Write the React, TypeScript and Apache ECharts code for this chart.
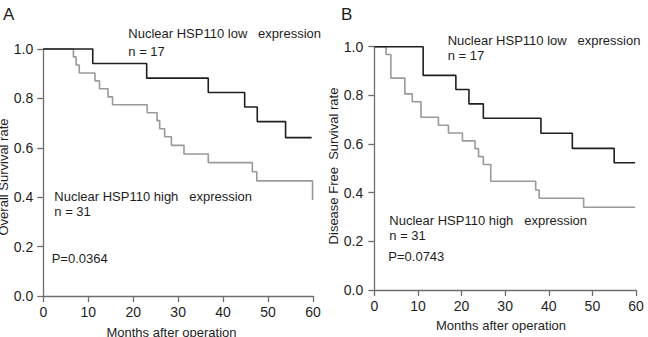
import React, { useEffect, useRef } from "react";
import * as echarts from "echarts";

// Kaplan–Meier estimates (months after operation, survival rate)
const osLowMonths = [0, 11, 23, 36.7, 44.8, 47.6, 53.9, 59.7];
const osLowRate = [1, 0.941, 0.882, 0.824, 0.765, 0.706, 0.641, 0.641];
const osHighMonths = [0, 6.7, 7.3, 8.0, 11.5, 12.5, 14.4, 15.4, 23.1, 25.3, 25.9, 27, 28.5, 31.3, 36.7, 46.5, 47.5, 59.9];
const osHighRate = [1, 0.968, 0.935, 0.903, 0.871, 0.839, 0.806, 0.774, 0.742, 0.71, 0.677, 0.645, 0.61, 0.575, 0.54, 0.503, 0.466, 0.389];

const dfsLowMonths = [0, 11.2, 18.7, 21.7, 25, 38.2, 45.4, 55, 59.8];
const dfsLowRate = [1, 0.882, 0.824, 0.765, 0.706, 0.644, 0.582, 0.523, 0.523];
const dfsHighMonths = [0, 2.7, 3.8, 7.0, 8.7, 10.7, 14.7, 17, 20.2, 23.1, 23.9, 25, 26.7, 37, 37.8, 48, 59.8];
const dfsHighRate = [1, 0.968, 0.871, 0.806, 0.774, 0.71, 0.677, 0.645, 0.613, 0.581, 0.548, 0.516, 0.447, 0.411, 0.377, 0.34, 0.34];

const xTicks = [0, 10, 20, 30, 40, 50, 60];
const yTicks = [0, 0.2, 0.4, 0.6, 0.8, 1.0];

const FONT = "'Liberation Sans', Arial, sans-serif";
const TEXT = "#1e1e1e";
const AXIS = "#6e6e6e";
const LOW_COLOR = "#1f1f1f";
const HIGH_COLOR = "#9a9a9a";

const zip = (xs: number[], ys: number[]) => xs.map((x, i) => [x, ys[i]]);

function xAxisOf(gridIndex: number) {
  return {
    type: "value",
    gridIndex,
    min: xTicks[0],
    max: xTicks[xTicks.length - 1],
    interval: 10,
    axisLine: { show: true, onZero: false, lineStyle: { color: AXIS, width: 1.3 } },
    axisTick: { show: true, length: 6, lineStyle: { color: AXIS, width: 1.3 } },
    axisLabel: { color: TEXT, fontSize: 14, fontFamily: FONT, margin: 9 },
    splitLine: { show: false },
  };
}

function yAxisOf(gridIndex: number, margin: number) {
  return {
    type: "value",
    gridIndex,
    min: yTicks[0],
    max: yTicks[yTicks.length - 1],
    interval: 0.2,
    axisLine: { show: true, onZero: false, lineStyle: { color: AXIS, width: 1.3 } },
    axisTick: { show: true, length: 6, lineStyle: { color: AXIS, width: 1.3 } },
    axisLabel: {
      color: TEXT,
      fontSize: 14,
      fontFamily: FONT,
      margin,
      formatter: (v: number) => v.toFixed(1),
    },
    splitLine: { show: false },
  };
}

function kmSeries(xIdx: number, data: number[][], color: string) {
  return {
    type: "line",
    xAxisIndex: xIdx,
    yAxisIndex: xIdx,
    step: "end",
    symbol: "none",
    clip: false,
    data,
    lineStyle: { color, width: 1.6 },
  };
}

function label(text: string, x: number, y: number, extra: any = {}) {
  return {
    type: "text",
    x,
    y,
    style: {
      text,
      fill: TEXT,
      font: `13px ${FONT}`,
      textAlign: "left",
      textVerticalAlign: "middle",
      ...extra,
    },
  };
}

export default function App() {
  const ref = useRef<HTMLDivElement>(null);

  useEffect(() => {
    if (!ref.current) return;
    const chart = echarts.init(ref.current, undefined, { renderer: "svg" });
    chart.setOption({
      animation: false,
      backgroundColor: "#ffffff",
      grid: [
        { left: 43.3, top: 49, width: 269.7, height: 247 },
        { left: 374.3, top: 46.7, width: 261.7, height: 243.3 },
      ],
      xAxis: [xAxisOf(0), xAxisOf(1)],
      yAxis: [yAxisOf(0, 10), yAxisOf(1, 11)],
      series: [
        kmSeries(0, zip(osHighMonths, osHighRate), HIGH_COLOR),
        kmSeries(0, zip(osLowMonths, osLowRate), LOW_COLOR),
        kmSeries(1, zip(dfsHighMonths, dfsHighRate), HIGH_COLOR),
        kmSeries(1, zip(dfsLowMonths, dfsLowRate), LOW_COLOR),
      ],
      graphic: [
        label("A", 3, 14, { font: `17px ${FONT}` }),
        label("B", 341, 14, { font: `17px ${FONT}` }),

        label("Nuclear HSP110 low   expression", 128.3, 33.5),
        label("n = 17", 128.3, 51),
        label("Nuclear HSP110 high   expression", 54.3, 196.5),
        label("n = 31", 54.3, 211.5),
        label("P=0.0364", 51.7, 258.5),
        label("Months after operation", 171.5, 332, { textAlign: "center" }),
        {
          type: "text",
          x: 3,
          y: 177,
          rotation: Math.PI / 2,
          style: {
            text: "Overall Survival rate",
            fill: TEXT,
            font: `13px ${FONT}`,
            textAlign: "center",
            textVerticalAlign: "middle",
          },
        },

        label("Nuclear HSP110 low   expression", 447.7, 40.5),
        label("n = 17", 447.7, 55.5),
        label("Nuclear HSP110 high   expression", 389.3, 220.5),
        label("n = 31", 389.3, 235.5),
        label("P=0.0743", 388.3, 256),
        label("Months after operation", 501, 325, { textAlign: "center" }),
        {
          type: "text",
          x: 333,
          y: 166,
          rotation: Math.PI / 2,
          style: {
            text: "Disease Free  Survival rate",
            fill: TEXT,
            font: `13px ${FONT}`,
            textAlign: "center",
            textVerticalAlign: "middle",
          },
        },
      ],
    });
    return () => chart.dispose();
  }, []);

  return (
    <div
      ref={ref}
      style={{ position: "fixed", left: 0, top: 0, width: 648, height: 337, background: "#fff" }}
    />
  );
}
